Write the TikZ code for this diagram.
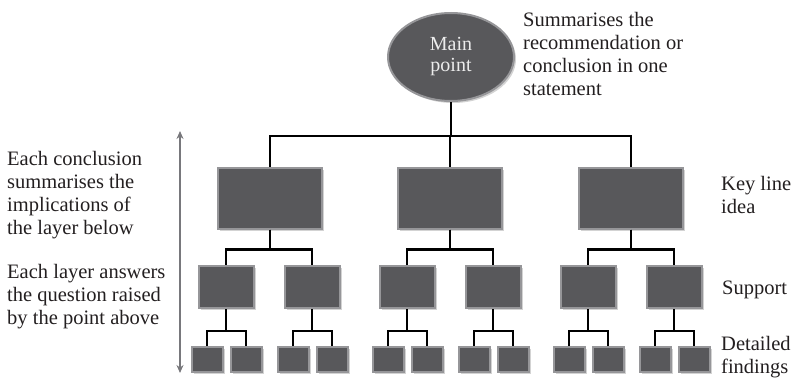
\documentclass[tikz,border=0pt]{standalone}
\usepackage{fontspec}
\setmainfont{Liberation Serif}
\usetikzlibrary{shapes.geometric,shadows,arrows.meta}
\definecolor{boxfill}{RGB}{88,88,91}
\definecolor{boxrim}{RGB}{150,150,153}
\definecolor{txt}{RGB}{35,31,32}
\definecolor{arrgray}{RGB}{120,120,124}
\tikzset{
  base/.style={fill=boxfill, draw=boxrim, line width=2pt,
    drop shadow={opacity=0.35, shadow xshift=2pt, shadow yshift=-2pt}},
  bigbox/.style={base, minimum width=104pt, minimum height=61pt, inner sep=0pt},
  midbox/.style={base, minimum width=55pt, minimum height=42pt, inner sep=0pt},
  leaf/.style={base, minimum width=31pt, minimum height=25pt, inner sep=0pt},
  rootell/.style={base, ellipse, minimum width=126pt, minimum height=88pt, inner sep=0pt,
    text=gray!15, align=center, font=\fontsize{20}{21}\selectfont},
  wire/.style={draw=black, line width=2.6pt},
  label/.style={anchor=north west, inner sep=0pt, align=left, text=txt,
    font=\fontsize{20.5}{23}\selectfont},
}
\begin{document}
\begin{tikzpicture}[x=1pt,y=-1pt]
\useasboundingbox (0,0) rectangle (796,380);
% root
\node[rootell] (root) at (451,57) {Main\\point};
% level 1
\node[bigbox] (a) at (270,198) {};
\node[bigbox] (b) at (450,198) {};
\node[bigbox] (c) at (631,198) {};
% level 2
\node[midbox] (a1) at (226,287) {};
\node[midbox] (a2) at (312,287) {};
\node[midbox] (b1) at (407,287) {};
\node[midbox] (b2) at (493,287) {};
\node[midbox] (c1) at (588,287) {};
\node[midbox] (c2) at (674,287) {};
% level 3
\foreach \p/\x in {a1/226,a2/312,b1/407,b2/493,c1/588,c2/674}{
  \node[leaf] (\p l) at (\x-19,359.5) {};
  \node[leaf] (\p r) at (\x+20,359.5) {};
}
% connectors
\foreach \c in {a,b,c}{
  \draw[wire] (root.south) -- ++(0,34) -| (\c.north);
}
\foreach \p/\c in {a/a1,a/a2,b/b1,b/b2,c/c1,c/c2}{
  \draw[wire] (\p.south) -- ++(0,20) -| (\c.north);
}
\foreach \p in {a1,a2,b1,b2,c1,c2}{
  \draw[wire] (\p.south) -- ++(0,22) -| (\p l.north);
  \draw[wire] (\p.south) -- ++(0,22) -| (\p r.north);
}
% side arrow
\coordinate (arrtop) at (180,131);
\coordinate (arrbot) at (180,373);
\draw[draw=arrgray, line width=2pt, {Stealth[length=8pt,width=7pt]}-{Stealth[length=8pt,width=7pt]}] (arrtop) -- (arrbot);
% labels
\node[label] (l1) at (7,151) {Each conclusion\\summarises the\\implications of\\the layer below};
\node[label] (l2) at (7,264) {Each layer answers\\the question raised\\by the point above};
\node[label] (r0) at (523,12) {Summarises the\\recommendation or\\conclusion in one\\statement};
\node[label] (r1) at (721,176) {Key line\\idea};
\node[label] (r2) at (722,281) {Support};
\node[label] (r3) at (721,336) {Detailed\\findings};
\end{tikzpicture}
\end{document}
